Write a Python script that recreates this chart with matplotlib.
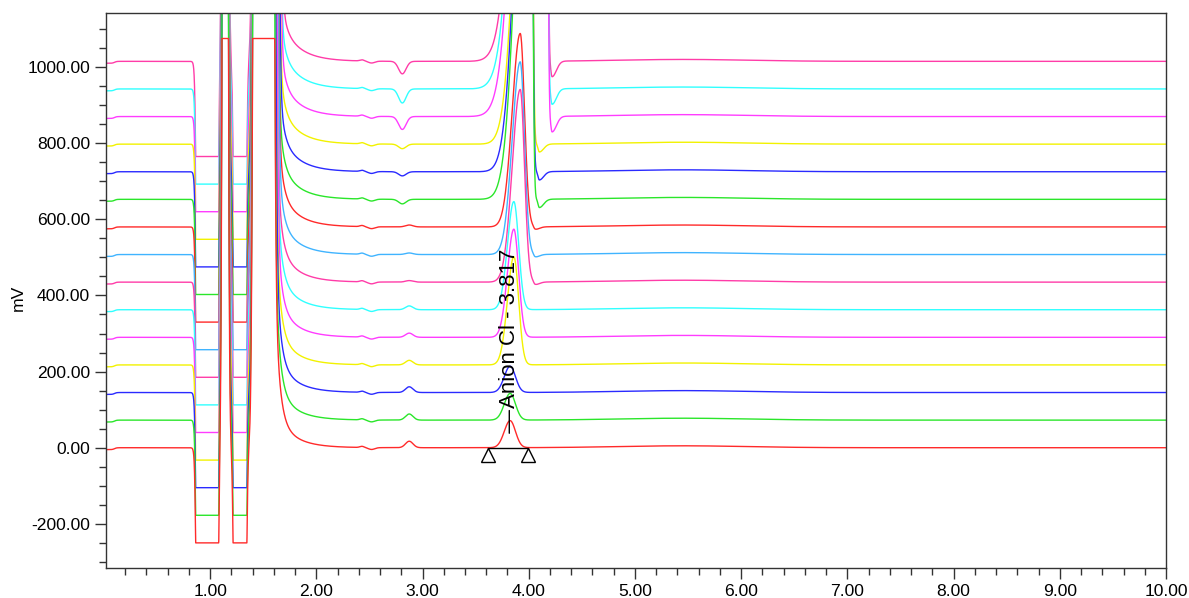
import numpy as np
import matplotlib.pyplot as plt
from matplotlib.ticker import MultipleLocator, FormatStrFormatter

plt.rcParams['font.family'] = ['Liberation Sans', 'DejaVu Sans']

# 15 overlaid runs, each shifted up by a fixed offset (mV)
offsets = [0, 72.5, 145, 217.5, 290, 362.5, 435, 507.5, 580, 652.5, 725, 797.5, 870, 942.5, 1015]
colors = ['#ff2a2a', '#2ae62a', '#2a2aff', '#f2f200', '#ff3cff', '#30ffff', '#ff3ca8', '#40b4ff',
          '#ff2a2a', '#2ae62a', '#2a2aff', '#f2f200', '#ff3cff', '#30ffff', '#ff3ca8']

# chloride peak, one entry per run
cl_height = [71, 70, 69, 284, 284, 284, 506, 506, 508, 1500, 1500, 1500, 5000, 5000, 5000]
cl_center = [3.825, 3.825, 3.825, 3.86, 3.86, 3.86, 3.92, 3.92, 3.92, 4.02, 4.02, 4.02, 4.16, 4.16, 4.16]
cl_sig_left = [0.055, 0.055, 0.055, 0.06, 0.06, 0.06, 0.075, 0.075, 0.075, 0.115, 0.115, 0.115, 0.162, 0.162, 0.162]
cl_sig_right = [0.05, 0.05, 0.05, 0.045, 0.045, 0.045, 0.04, 0.04, 0.04, 0.015, 0.015, 0.015, 0.012, 0.012, 0.012]
# negative dip right after the chloride peak
post_dip_amp = [0, 0, 0, 0, 0, 0, -7, -7, -7, -22, -22, -21, -41, -41, -41]
post_dip_pos = [4.06, 4.06, 4.06, 4.06, 4.06, 4.06, 4.06, 4.06, 4.06, 4.10, 4.10, 4.10, 4.22, 4.22, 4.22]
# small peak / dip near 2.85 min
p28_amp = [17, 16, 15, 12, 11, 10, 4, 4, 5, -12, -11, -12, -34, -37, -33]
p28_pos = [2.875, 2.875, 2.875, 2.875, 2.875, 2.875, 2.875, 2.875, 2.875, 2.81, 2.81, 2.81, 2.81, 2.81, 2.81]
# slow part of the system peak tail, and where the big system peak ends
tail_amp = [91, 95, 99, 102, 106, 110, 113, 117, 121, 124, 128, 132, 135, 139, 143]
sys_end = [1.60, 1.60, 1.61, 1.61, 1.62, 1.62, 1.62, 1.63, 1.63, 1.63, 1.64, 1.64, 1.65, 1.65, 1.66]

det_min, det_max = -250, 1075   # detector range, signal saturates here

t = np.linspace(0.02, 10, 8000)


def sig(x):
    return 0.5 * (1 + np.tanh(x / 2))


def box(a, b, w):
    return sig((t - a) / w) - sig((t - b) / w)


def gauss(c, s):
    return np.exp(-(t - c) ** 2 / (2 * s ** 2))


def agauss(c, sl, sr):
    s = np.where(t < c, sl, sr)
    return np.exp(-(t - c) ** 2 / (2 * s ** 2))


def trace(i):
    s = -5 * (1 - sig((t - 0.1) / 0.01))
    s += -600 * box(0.866, 1.08, 0.006)
    s += 3000 * box(1.115, 1.17, 0.006)
    s += -600 * box(1.218, 1.345, 0.006)
    s += 3000 * box(1.405, sys_end[i], 0.008)
    dt = np.clip(t - 1.6, 0, None)
    s += sig((t - 1.6) / 0.006) * (440 * np.exp(-dt / 0.04) + tail_amp[i] * np.exp(-dt / 0.17))
    s += 3 * gauss(2.43, 0.02) - 5 * gauss(2.52, 0.03)
    s += p28_amp[i] * gauss(p28_pos[i], 0.035)
    s += cl_height[i] * agauss(cl_center[i], cl_sig_left[i], cl_sig_right[i])
    s += post_dip_amp[i] * agauss(post_dip_pos[i], 0.012, 0.04)
    s += 5 * gauss(5.45, 0.6)
    return np.clip(s, det_min, det_max) + offsets[i]


fig = plt.figure(figsize=(11.89, 5.98), dpi=100)
ax = fig.add_axes([106 / 1189, 30 / 598, 1060 / 1189, 555 / 598])

for i in reversed(range(len(offsets))):
    ax.plot(t, trace(i), color=colors[i], lw=1.0)

# peak label and integration marks
ax.annotate('Anion Cl - 3.817', xy=(3.817, 38), xytext=(3.817, 105),
            rotation=90, ha='center', va='bottom', fontsize=16,
            arrowprops=dict(arrowstyle='-', lw=1, color='k', shrinkA=0, shrinkB=0))
ax.plot([3.617, 3.994], [0, 0], color='k', lw=1)
ax.plot([3.617, 3.994], [-18, -18], ls='none', marker='^', ms=10,
        mfc='white', mec='k', mew=1)

ax.set_xlim(0.02, 10)
ax.set_ylim(-316, 1142)
ax.xaxis.set_major_locator(MultipleLocator(1))
ax.xaxis.set_minor_locator(MultipleLocator(0.2))
ax.yaxis.set_major_locator(MultipleLocator(200))
ax.yaxis.set_minor_locator(MultipleLocator(50))
ax.xaxis.set_major_formatter(FormatStrFormatter('%.2f'))
ax.yaxis.set_major_formatter(FormatStrFormatter('%.2f'))
ax.tick_params(which='major', direction='out', length=8, width=1, labelsize=12.6, colors='#333333')
ax.tick_params(which='minor', direction='out', length=5, width=1, colors='#333333')
ax.tick_params(labelcolor='black')
for sp in ax.spines.values():
    sp.set_color('#333333')
    sp.set_linewidth(1)

fig.text(18 / 1189, 1 - 298 / 598, 'mV', rotation=90, ha='center', va='center', fontsize=12.6)

fig.savefig('out.png', dpi=100)
